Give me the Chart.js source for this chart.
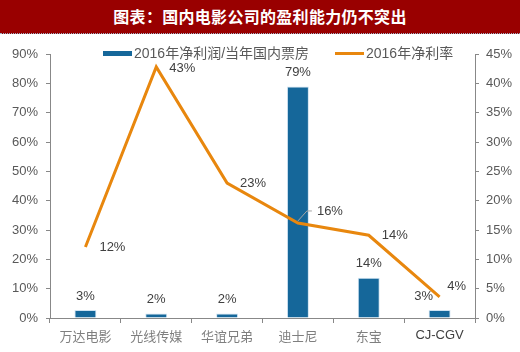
<!DOCTYPE html>
<html>
<head>
<meta charset="utf-8">
<script src="https://cdn.jsdelivr.net/npm/chart.js@4"></script>
<style>
  body { margin: 0; background: #fff; }
  #wrap { position: relative; width: 520px; height: 352px; overflow: hidden; }
  #title {
    position: absolute; left: 0; top: 0; width: 520px; height: 33px;
    background: #990000; color: #fff; border-bottom: 1px dotted #9fb3c8;
    font: bold 16px "Noto Sans CJK SC", sans-serif; letter-spacing: 0.3px;
    text-align: center; line-height: 33px;
  }
  .lg { position: absolute; top: 44px; font: 14px "Liberation Sans", "Noto Sans CJK SC", sans-serif; color: #595959; line-height: 18px; white-space: nowrap; }
  .lg i { display: inline-block; vertical-align: middle; margin-right: 2px; position: relative; top: -1px; }
  canvas { position: absolute; left: 0; top: 0; }
</style>
</head>
<body>
<div id="wrap">
  <canvas id="diagram" width="520" height="352"></canvas>
  <div id="title">图表：国内电影公司的盈利能力仍不突出</div>
  <div class="lg" style="left:103px"><i style="width:29px;height:5px;background:#15679a"></i>2016年净利润/当年国内票房</div>
  <div class="lg" style="left:335px"><i style="width:29px;height:3px;background:#e8870e"></i>2016年净利率</div>
</div>
<script>
// kategorier och värden
const companies = ["万达电影", "光线传媒", "华谊兄弟", "迪士尼", "东宝", "CJ-CGV"];
const profitToBoxOffice = [2.7, 1.5, 1.5, 78.9, 13.7, 2.7]; // vänster axel, %
const profitToBoxOfficeLabels = ["3%", "2%", "2%", "79%", "14%", "3%"];
const netMargin = [12.1, 42.8, 23, 16.2, 14.1, 3.6]; // höger axel, %
const netMarginLabels = ["12%", "43%", "23%", "16%", "14%", "4%"];

const grey = "#888888";
const tickFont = { family: "Liberation Sans, Arial", size: 13 };

// ritar etiketterna vid staplar och linje
const labelPlugin = {
  id: "labels",
  afterDatasetsDraw(chart) {
    const ctx = chart.ctx;
    ctx.save();
    ctx.font = "13px Liberation Sans, Arial";
    ctx.fillStyle = "#404040";
    ctx.textAlign = "center";
    ctx.textBaseline = "middle";

    const bars = chart.getDatasetMeta(0).data;
    bars.forEach((bar, i) => {
      const dx = i === 5 ? -16 : 0;
      ctx.fillText(profitToBoxOfficeLabels[i], bar.x + dx, bar.y - 14);
    });

    const lineOffsets = [[27, 0], [26, 2], [26, 0], [32, -12], [26, 0], [17, -10]];
    const points = chart.getDatasetMeta(1).data;
    points.forEach((p, i) => {
      ctx.fillText(netMarginLabels[i], p.x + lineOffsets[i][0], p.y + lineOffsets[i][1]);
    });

    // ledlinje för 16%
    const p = points[3];
    ctx.strokeStyle = "#a6a6a6";
    ctx.lineWidth = 1;
    ctx.beginPath();
    ctx.moveTo(p.x, p.y - 2);
    ctx.lineTo(p.x + 9, p.y - 12);
    ctx.lineTo(p.x + 14, p.y - 12);
    ctx.stroke();
    ctx.restore();
  },
};

const config = {
  data: {
    labels: companies,
    datasets: [
      {
        type: "bar",
        label: "2016年净利润/当年国内票房",
        data: profitToBoxOffice,
        yAxisID: "y",
        backgroundColor: "#15679a",
        borderColor: "#cfe3f2",
        borderWidth: 1,
        categoryPercentage: 1,
        barPercentage: 0.31,
        order: 2,
      },
      {
        type: "line",
        label: "2016年净利率",
        data: netMargin,
        yAxisID: "y1",
        borderColor: "#e8870e",
        borderWidth: 3,
        pointRadius: 0,
        tension: 0,
        order: 1,
      },
    ],
  },
  options: {
    responsive: false,
    animation: false,
    layout: { padding: { top: 54, left: 0, right: 0, bottom: 0 } },
    plugins: { legend: { display: false }, tooltip: { enabled: false } },
    scales: {
      x: {
        offset: true,
        grid: { display: true, drawOnChartArea: false, offset: true, tickLength: 5, color: grey },
        border: { color: grey },
        ticks: {
          padding: 5,
          font: (c) => (c.index === 5 ? tickFont : { family: "Noto Sans CJK SC", size: 13 }),
          color: (c) => (c.index === 5 ? "#404040" : "#7f7f7f"),
        },
        afterFit: (s) => { s.height = 34; },
      },
      y: {
        position: "left",
        min: 0,
        max: 90,
        ticks: { stepSize: 10, padding: 8, font: tickFont, color: "#595959", callback: (v) => v + "%" },
        grid: { drawOnChartArea: false, tickLength: 4, color: grey },
        border: { color: grey },
        afterFit: (s) => { s.width = 50; },
      },
      y1: {
        position: "right",
        min: 0,
        max: 45,
        ticks: { stepSize: 5, padding: 7, font: tickFont, color: "#595959", callback: (v) => v + "%" },
        grid: { drawOnChartArea: false, tickLength: 4, color: grey },
        border: { color: grey },
        afterFit: (s) => { s.width = 45; },
      },
    },
  },
  plugins: [labelPlugin],
};

const canvas = document.getElementById("diagram");
const chart = new Chart(canvas, config);
</script>
</body>
</html>
